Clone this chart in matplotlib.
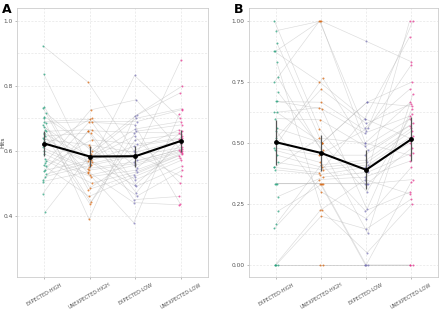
import matplotlib.pyplot as plt
import numpy as np

conditions = ['EXPECTED-HIGH', 'UNEXPECTED-HIGH', 'EXPECTED-LOW', 'UNEXPECTED-LOW']
colors = ['#1B9E77', '#D95F02', '#7570B3', '#E7298A']

# Panel A: per-subject hit rates (index = subject)
a_exp_high = [0.924, 0.837, 0.735, 0.562, 0.716, 0.509, 0.70, 0.69, 0.411, 0.685,
              0.68, 0.536, 0.672, 0.665, 0.66, 0.467, 0.655, 0.65, 0.645, 0.552,
              0.64, 0.635, 0.63, 0.52, 0.62, 0.61, 0.60, 0.59, 0.575, 0.569,
              0.733, 0.555, 0.705, 0.54, 0.528, 0.505]
a_unexp_high = [0.811, 0.55, 0.485, 0.726, 0.60, 0.66, 0.388, 0.697, 0.59, 0.69,
                0.531, 0.688, 0.58, 0.441, 0.665, 0.662, 0.575, 0.436, 0.655, 0.634,
                0.567, 0.618, 0.56, 0.555, 0.70, 0.545, 0.54, 0.525, 0.52, 0.50,
                0.48, 0.459, 0.61, 0.57, 0.565, 0.535]
a_exp_low = [0.60, 0.832, 0.58, 0.757, 0.711, 0.449, 0.706, 0.495, 0.70, 0.69,
             0.378, 0.68, 0.667, 0.66, 0.547, 0.656, 0.645, 0.634, 0.47, 0.62,
             0.613, 0.595, 0.59, 0.585, 0.57, 0.565, 0.56, 0.555, 0.54, 0.535,
             0.526, 0.52, 0.51, 0.49, 0.46, 0.44]
a_unexp_low = [0.665, 0.70, 0.88, 0.60, 0.80, 0.459, 0.778, 0.62, 0.73, 0.727,
               0.713, 0.437, 0.69, 0.68, 0.66, 0.655, 0.50, 0.65, 0.644, 0.64,
               0.635, 0.63, 0.521, 0.61, 0.605, 0.603, 0.598, 0.595, 0.592, 0.59,
               0.585, 0.578, 0.57, 0.552, 0.54, 0.433]
a_means = [0.622, 0.582, 0.583, 0.630]
a_err = [0.038, 0.032, 0.032, 0.033]

# Panel B: per-subject values
b_exp_high = [1.0, 0.333, 0.96, 0.91, 0.0, 0.875, 0.875, 0.52, 0.83, 0.77,
              0.75, 0.0, 0.67, 0.67, 0.22, 0.625, 0.6, 0.333, 0.56, 0.5,
              0.48, 0.47, 0.167, 0.45, 0.42, 0.40, 0.39, 0.0, 0.333, 0.28,
              0.15, 0.0, 0.55, 0.625, 0.71, 0.4]
b_unexp_high = [0.557, 0.333, 1.0, 0.5, 0.0, 0.75, 1.0, 0.72, 0.224, 0.46,
                1.0, 0.0, 0.667, 0.64, 0.333, 0.645, 0.595, 0.333, 0.5, 0.766,
                0.45, 0.42, 0.41, 0.4, 0.39, 0.378, 0.37, 0.2, 0.333, 0.36,
                0.35, 0.224, 0.3, 0.5, 0.47, 0.52]
b_exp_low = [0.333, 0.0, 0.917, 0.667, 0.0, 0.6, 0.5, 0.58, 0.05, 0.56,
             0.56, 0.0, 0.55, 0.228, 0.333, 0.54, 0.486, 0.0, 0.667, 0.47,
             0.45, 0.222, 0.43, 0.42, 0.41, 0.6, 0.40, 0.147, 0.333, 0.38,
             0.36, 0.35, 0.19, 0.3, 0.13, 0.5]
b_unexp_low = [1.0, 0.0, 0.833, 0.65, 0.0, 0.935, 0.667, 0.66, 0.25, 1.0,
               0.72, 0.0, 0.82, 0.64, 0.35, 0.61, 0.6, 0.34, 0.75, 0.58,
               0.57, 0.3, 0.56, 0.55, 0.53, 0.52, 0.5, 0.27, 0.48, 0.46,
               0.425, 0.29, 0.4, 0.62, 0.7, 0.45]
b_means = [0.503, 0.459, 0.390, 0.515]
b_err = [0.092, 0.072, 0.080, 0.090]

panels = [
    ('A', [a_exp_high, a_unexp_high, a_exp_low, a_unexp_low], a_means, a_err,
     [0.4, 0.6, 0.8, 1.0], ['0.4', '0.6', '0.8', '1.0'], (0.21, 1.04), 'Hits'),
    ('B', [b_exp_high, b_unexp_high, b_exp_low, b_unexp_low], b_means, b_err,
     [0.0, 0.25, 0.5, 0.75, 1.0], ['0.00', '0.25', '0.50', '0.75', '1.00'], (-0.05, 1.053), ''),
]

fig = plt.figure(figsize=(4.4, 3.1), dpi=100)
rects = [[0.039, 0.106, 0.434, 0.868], [0.566, 0.106, 0.430, 0.868]]
grid_col = '#e6e6e6'

for rect, (letter, groups, means, errs, yt, ytl, ylim, ylab) in zip(rects, panels):
    ax = fig.add_axes(rect)
    x = np.arange(1, 5)
    vals = np.array(groups)  # shape (4, n)
    n = vals.shape[1]
    jit = ((np.arange(n) % 5) - 2) * 0.018
    # subject lines
    for i in range(n):
        ax.plot(x + jit[i], vals[:, i], color='#b0b0b0', lw=0.45, alpha=0.45, zorder=1)
    # points
    for k in range(4):
        ax.scatter(np.full(n, x[k]) + jit, vals[k], s=2.0, color=colors[k],
                   alpha=0.7, linewidths=0, zorder=2)
    # mean + error bars
    ax.errorbar(x, means, yerr=errs, fmt='none', ecolor='#555555', elinewidth=0.9,
                capsize=0, zorder=3)
    ax.plot(x, means, color='black', lw=1.5, zorder=4)
    ax.scatter(x, means, s=6, color='black', zorder=5)

    ax.set_xlim(0.4, 4.6)
    ax.set_ylim(*ylim)
    ax.set_xticks(x)
    ax.set_xticklabels(conditions, rotation=30, ha='center', va='top',
                       fontsize=3.6, color='#555555')
    ax.set_yticks(yt)
    ax.set_yticklabels(ytl, fontsize=4.2, color='#555555')
    step = yt[1] - yt[0]
    ax.set_yticks(np.array(yt[:-1]) + step / 2, minor=True)
    ax.grid(True, which='both', color=grid_col, lw=0.5, ls=(0, (3, 2)))
    ax.set_axisbelow(True)
    ax.tick_params(axis='both', length=1.5, width=0.4, color='#888888', pad=1.5)
    ax.tick_params(axis='x', pad=2)
    ax.tick_params(axis='y', which='minor', length=0)
    for sp in ax.spines.values():
        sp.set_color('#cccccc')
        sp.set_linewidth(0.6)
    if ylab:
        ax.set_ylabel(ylab, fontsize=4.2, color='#444444')
        ax.yaxis.set_label_coords(-0.062, 0.5)
    fig.text(rect[0] - 0.035, 0.99, letter, fontsize=9, fontweight='bold',
             ha='left', va='top')

fig.savefig('out.png', dpi=100)
